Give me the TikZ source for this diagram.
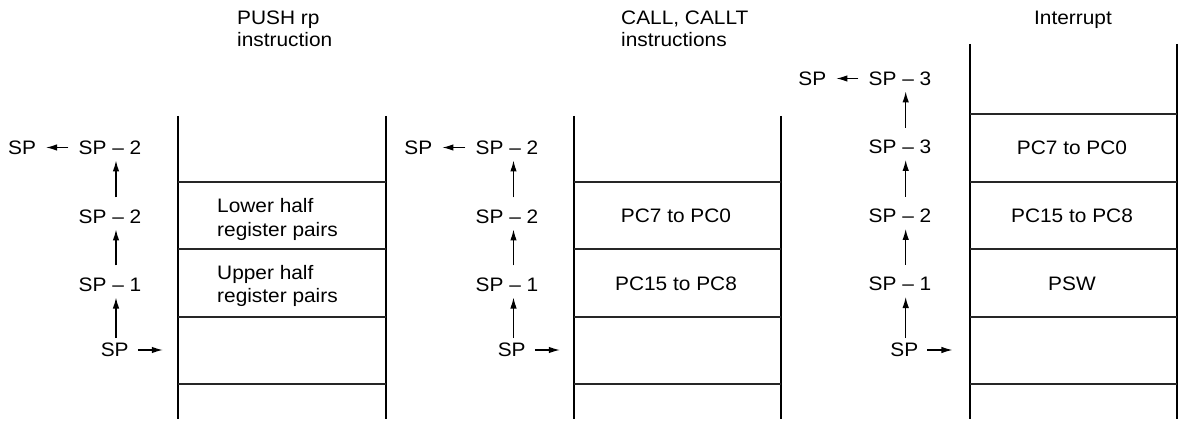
\documentclass[tikz,border=0pt]{standalone}
\usepackage{fontspec}
\setmainfont[FakeStretch=1.07]{Liberation Sans}
\usetikzlibrary{arrows.meta}
\begin{document}
\begin{tikzpicture}[x=1pt,y=-1pt,
  wall/.style={line width=2.8pt},
  sep/.style={line width=1.1pt, black!85},
  lbl/.style={inner sep=0pt, text height=13.6pt, text depth=0pt, font=\fontsize{19.5}{23.4}\selectfont},
  cell/.style={inner sep=0pt, align=left, font=\fontsize{19.5}{23.4}\selectfont},
  ttl/.style={inner sep=0pt, anchor=north west, align=left, font=\fontsize{19.5}{21.5}\selectfont},
  arr/.style={line width=1.2pt, -{Latex[length=11pt,width=6.5pt]}},
  up/.style={arr, shorten <=12pt, shorten >=6pt},
]
\useasboundingbox (0,0) rectangle (1181,422);

% ---------- titles ----------
\node[ttl] (t1) at (237,11) {PUSH rp\\instruction};
\node[ttl] (t2) at (621,11) {CALL, CALLT\\instructions};
\node[ttl, anchor=north] (t3) at (1073,11) {Interrupt};

% ---------- panel 1: PUSH rp ----------
\draw[wall] (178,116) -- (178,419);
\draw[wall] (386,116) -- (386,419);
\foreach \y in {182,249,317,384} \draw[sep] (178,\y) -- (386,\y);
\node[cell, anchor=west] (p1a) at (217,219.5) {Lower half\\register pairs};
\node[cell, anchor=west] (p1b) at (217,286) {Upper half\\register pairs};

\coordinate (ax1) at (116,0);
\node[lbl] (a0) at (114.7,350) {SP};
\node[lbl] (a1) at (110,284.5) {SP – 1};
\node[lbl] (a2) at (110,216.5) {SP – 2};
\node[lbl] (a3) at (110,147.5) {SP – 2};
\node[lbl] (a4) at (22,147.5) {SP};
\draw[arr, shorten <=5pt, shorten >=6pt] (a0.north -| ax1) -- (a1.south -| ax1);
\draw[up] (a1.north -| ax1) -- (a2.south -| ax1);
\draw[up] (a2.north -| ax1) -- (a3.south -| ax1);
\draw[arr, shorten <=10pt, shorten >=10pt] (a3.west) -- (a4.east);
\draw[arr, shorten <=9pt] (a0.east) -- ++(34,0);

% ---------- panel 2: CALL, CALLT ----------
\draw[wall] (574,116) -- (574,419);
\draw[wall] (781,116) -- (781,419);
\foreach \y in {182,249,317,384} \draw[sep] (574,\y) -- (781,\y);
\node[cell] (p2a) at (676,216) {PC7 to PC0};
\node[cell] (p2b) at (676,284) {PC15 to PC8};

\coordinate (ax2) at (513.5,0);
\node[lbl] (b0) at (511.7,350) {SP};
\node[lbl] (b1) at (507,284.5) {SP – 1};
\node[lbl] (b2) at (507,216.5) {SP – 2};
\node[lbl] (b3) at (507,147.5) {SP – 2};
\node[lbl] (b4) at (418.3,147.5) {SP};
\draw[arr, shorten <=5pt, shorten >=6pt] (b0.north -| ax2) -- (b1.south -| ax2);
\draw[up] (b1.north -| ax2) -- (b2.south -| ax2);
\draw[up] (b2.north -| ax2) -- (b3.south -| ax2);
\draw[arr, shorten <=10pt, shorten >=10pt] (b3.west) -- (b4.east);
\draw[arr, shorten <=9pt] (b0.east) -- ++(34,0);

% ---------- panel 3: Interrupt ----------
\draw[wall] (970,44) -- (970,419);
\draw[wall] (1177,44) -- (1177,419);
\foreach \y in {114,182,249,317,384} \draw[sep] (970,\y) -- (1177,\y);
\node[cell] (p3a) at (1072,148) {PC7 to PC0};
\node[cell] (p3b) at (1072,216) {PC15 to PC8};
\node[cell] (p3c) at (1072,284) {PSW};

\coordinate (ax3) at (905.7,0);
\node[lbl] (c0) at (904.3,350) {SP};
\node[lbl] (c1) at (900,284) {SP – 1};
\node[lbl] (c2) at (900,216) {SP – 2};
\node[lbl] (c3) at (900,147) {SP – 3};
\node[lbl] (c4) at (900,78.5) {SP – 3};
\node[lbl] (c5) at (812.3,78.5) {SP};
\draw[arr, shorten <=5pt, shorten >=6pt] (c0.north -| ax3) -- (c1.south -| ax3);
\draw[up] (c1.north -| ax3) -- (c2.south -| ax3);
\draw[up] (c2.north -| ax3) -- (c3.south -| ax3);
\draw[up] (c3.north -| ax3) -- (c4.south -| ax3);
\draw[arr, shorten <=10pt, shorten >=10pt] (c4.west) -- (c5.east);
\draw[arr, shorten <=9pt] (c0.east) -- ++(34,0);
\end{tikzpicture}
\end{document}
